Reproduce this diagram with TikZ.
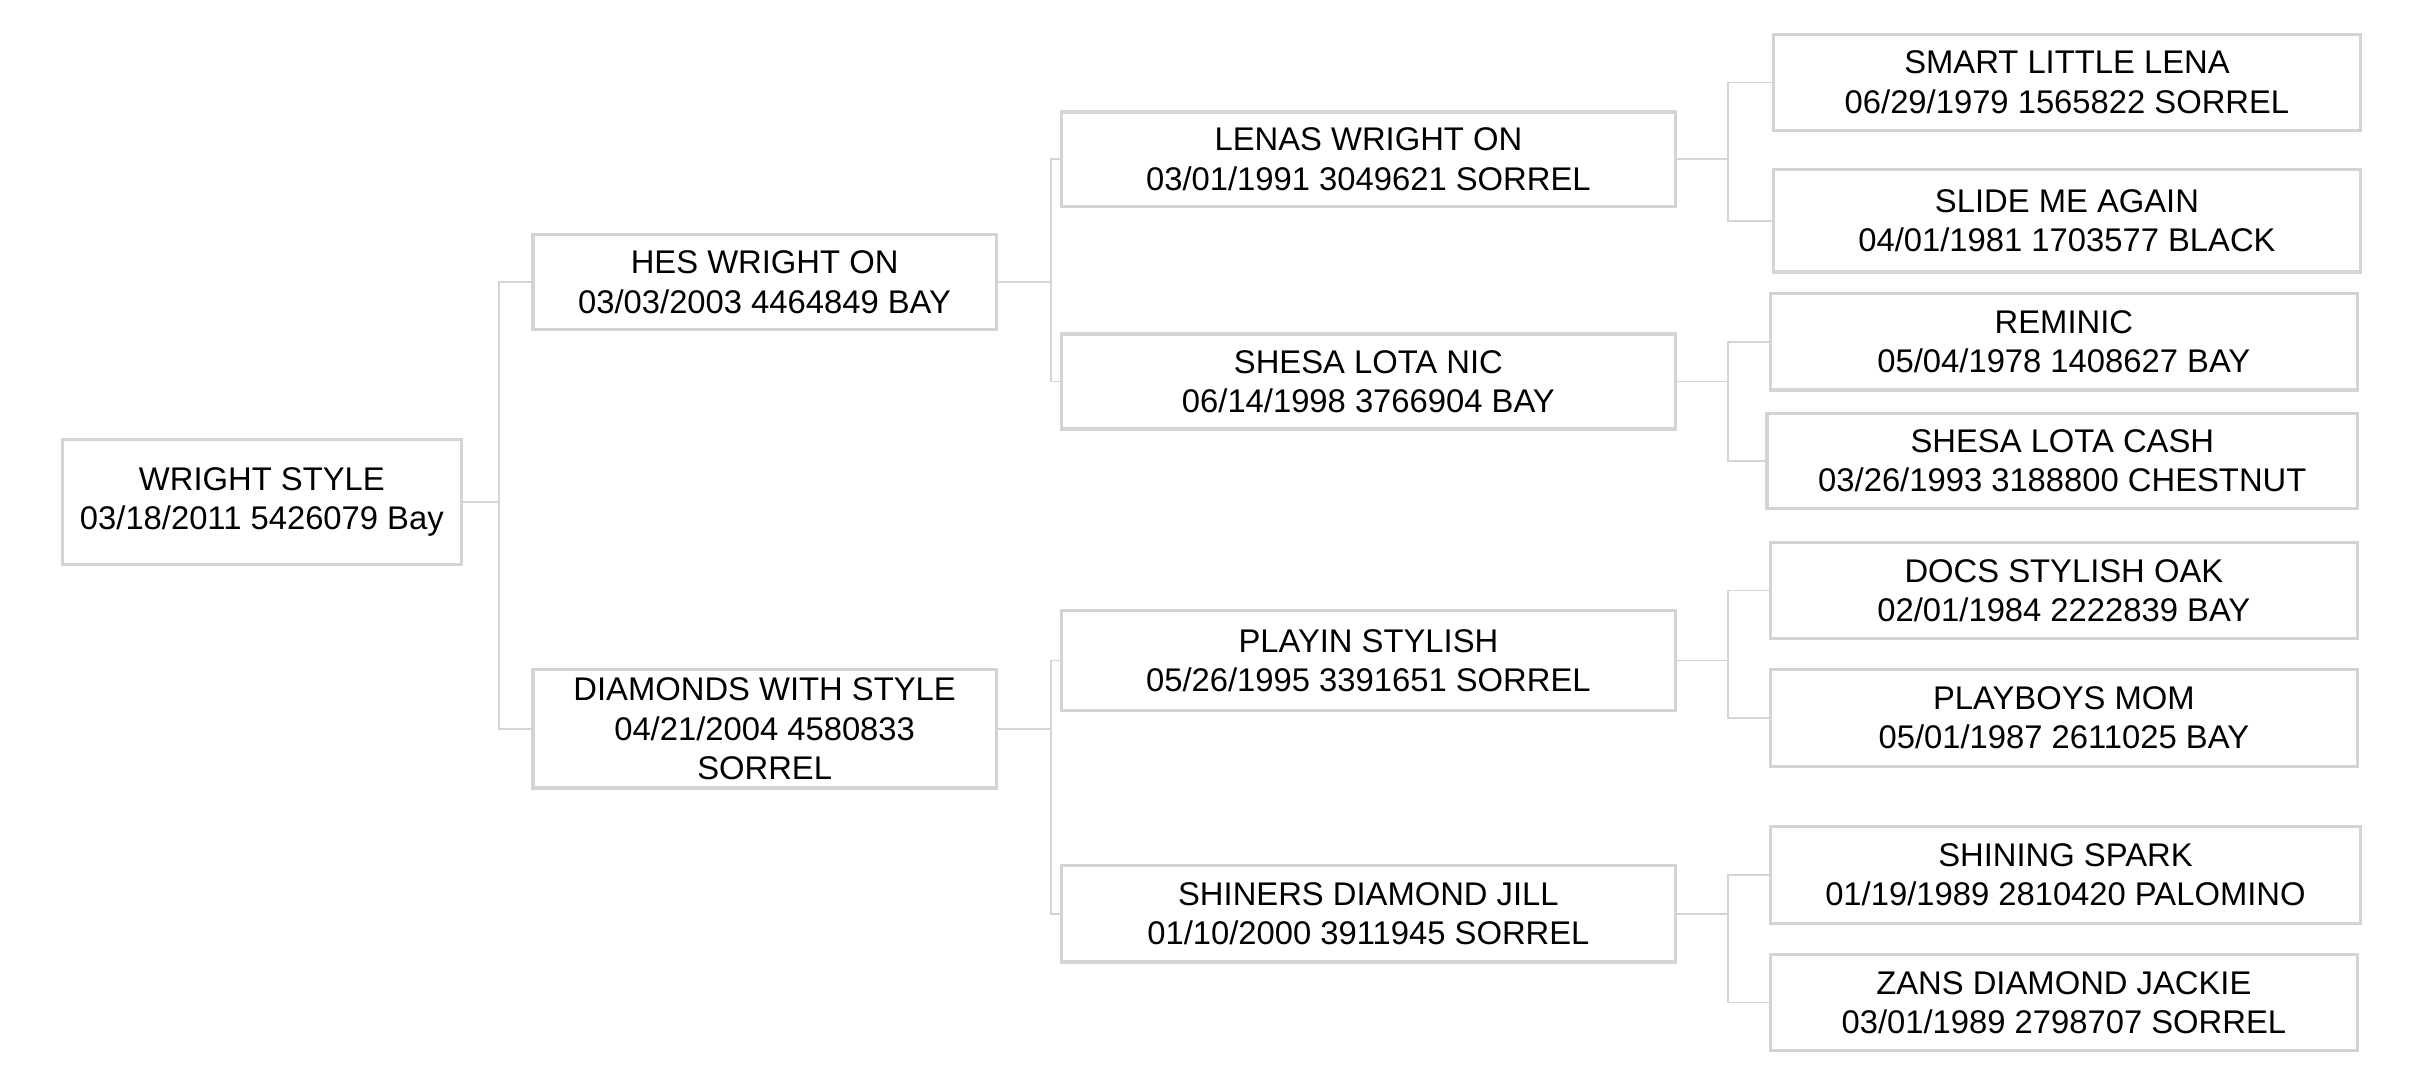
\documentclass[tikz,border=0pt]{standalone}
\usepackage{fontspec}
\setmainfont{Liberation Sans}
\usetikzlibrary{positioning}
\definecolor{boxgray}{HTML}{D4D4D4}
\tikzset{
    horse/.style={draw=boxgray,line width=3pt,align=center,inner sep=0pt,
        font=\fontsize{30}{36}\selectfont},
    link/.style={draw=boxgray,line width=1.5pt}
}
\begin{document}
\begin{tikzpicture}[x=0.05cm,y=-0.05cm]
    \useasboundingbox (0,0) rectangle (1552,691);
    % generation 1
    \node[horse,minimum width=257*0.05cm,minimum height=80*0.05cm] (ws) at (168.5,323) {WRIGHT STYLE\\03/18/2011 5426079 Bay};
    % generation 2
    \node[horse,minimum width=298*0.05cm,minimum height=61*0.05cm] (hwo) at (492,181.5) {HES WRIGHT ON\\03/03/2003 4464849 BAY};
    \node[horse,minimum width=298*0.05cm,minimum height=76*0.05cm] (dws) at (492,469) {DIAMONDS WITH STYLE\\04/21/2004 4580833\\SORREL};
    % generation 3
    \node[horse,minimum width=395*0.05cm,minimum height=61*0.05cm] (lwo) at (880.5,102.5) {LENAS WRIGHT ON\\03/01/1991 3049621 SORREL};
    \node[horse,minimum width=395*0.05cm,minimum height=61*0.05cm] (sln) at (880.5,245.5) {SHESA LOTA NIC\\06/14/1998 3766904 BAY};
    \node[horse,minimum width=395*0.05cm,minimum height=64*0.05cm] (ps) at (880.5,425) {PLAYIN STYLISH\\05/26/1995 3391651 SORREL};
    \node[horse,minimum width=395*0.05cm,minimum height=62*0.05cm] (sdj) at (880.5,588) {SHINERS DIAMOND JILL\\01/10/2000 3911945 SORREL};
    % generation 4
    \node[horse,minimum width=378*0.05cm,minimum height=62*0.05cm] (sll) at (1330,53) {SMART LITTLE LENA\\06/29/1979 1565822 SORREL};
    \node[horse,minimum width=378*0.05cm,minimum height=66*0.05cm] (sma) at (1330,142) {SLIDE ME AGAIN\\04/01/1981 1703577 BLACK};
    \node[horse,minimum width=378*0.05cm,minimum height=62*0.05cm] (rem) at (1328,220) {REMINIC\\05/04/1978 1408627 BAY};
    \node[horse,minimum width=380*0.05cm,minimum height=61*0.05cm] (slc) at (1327,296.5) {SHESA LOTA CASH\\03/26/1993 3188800 CHESTNUT};
    \node[horse,minimum width=378*0.05cm,minimum height=62*0.05cm] (dso) at (1328,380) {DOCS STYLISH OAK\\02/01/1984 2222839 BAY};
    \node[horse,minimum width=378*0.05cm,minimum height=62*0.05cm] (pm) at (1328,462) {PLAYBOYS MOM\\05/01/1987 2611025 BAY};
    \node[horse,minimum width=380*0.05cm,minimum height=62*0.05cm] (ssp) at (1329,563) {SHINING SPARK\\01/19/1989 2810420 PALOMINO};
    \node[horse,minimum width=378*0.05cm,minimum height=62*0.05cm] (zdj) at (1328,645) {ZANS DIAMOND JACKIE\\03/01/1989 2798707 SORREL};
    % links
    \foreach \p/\a/\b/\d in {ws/hwo/dws/23, hwo/lwo/sln/34, dws/ps/sdj/34,
                            lwo/sll/sma/33, sln/rem/slc/33, ps/dso/pm/33, sdj/ssp/zdj/33}{
        \coordinate (k) at ([xshift=\d*0.05cm]\p.east);
        \path[link] (\p.east) -- (k) (\a.west) -| (k) |- (\b.west);
    }
\end{tikzpicture}
\end{document}
